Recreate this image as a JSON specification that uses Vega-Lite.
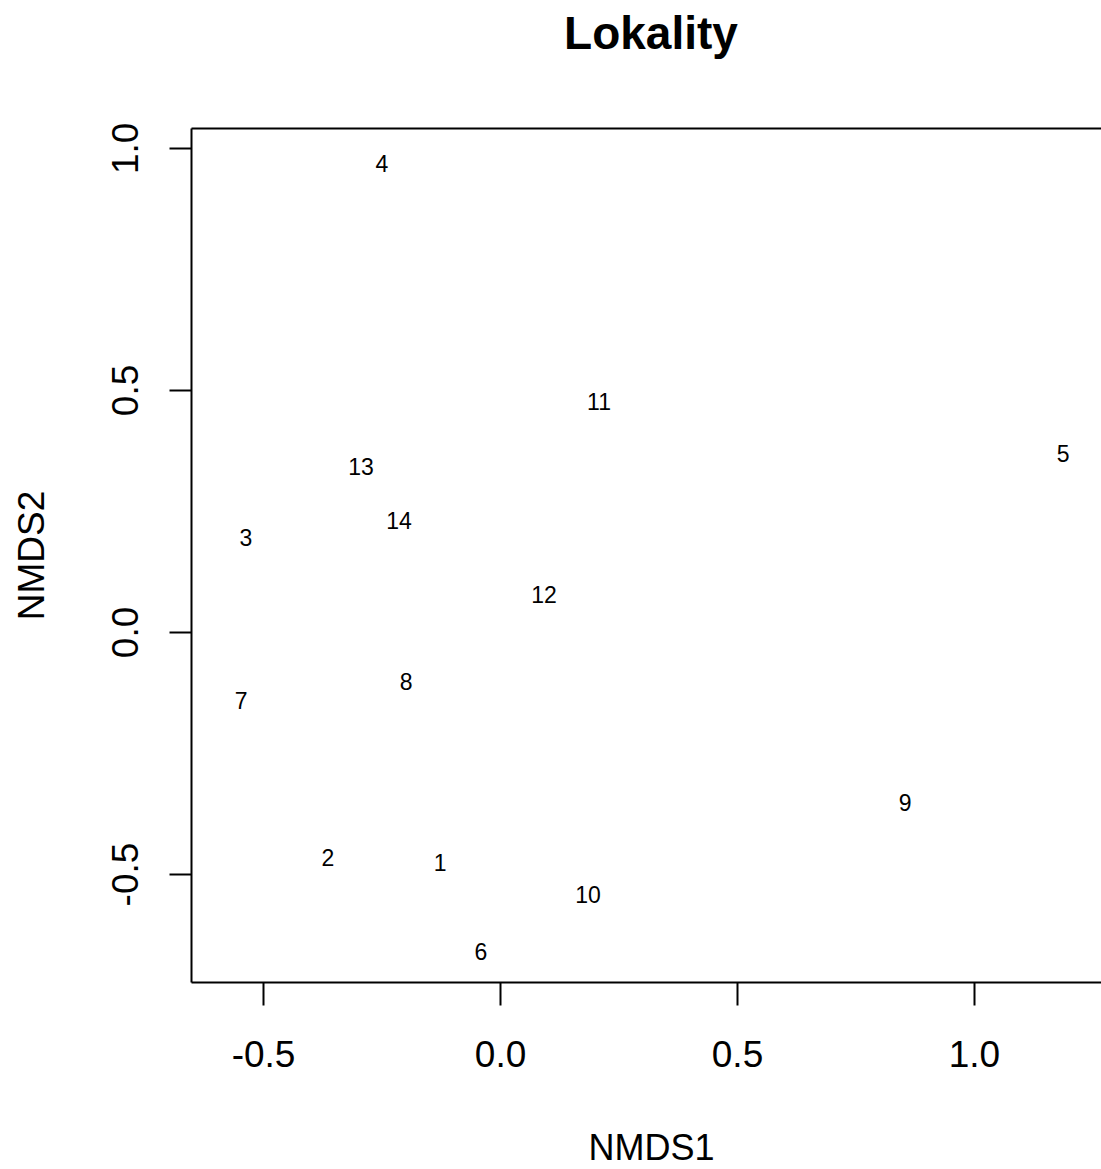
{
  "$schema": "https://vega.github.io/schema/vega-lite/v6.json",
  "autosize": {"type": "none"},
  "padding": {"left": 191, "top": 128, "right": 0, "bottom": 187},
  "width": 910,
  "height": 854,
  "background": "white",
  "title": {
    "text": "Lokality",
    "font": "Liberation Sans",
    "fontSize": 46,
    "fontWeight": "bold",
    "color": "black",
    "anchor": "middle",
    "frame": "group",
    "baseline": "alphabetic",
    "offset": 27,
    "dx": 5
  },
  "config": {
    "view": {"stroke": null},
    "font": "Liberation Sans"
  },
  "data": {
    "values": [
      {"label": "1", "x": -0.124, "y": -0.475},
      {"label": "2", "x": -0.361, "y": -0.465},
      {"label": "3", "x": -0.534, "y": 0.196},
      {"label": "4", "x": -0.247, "y": 0.969},
      {"label": "5", "x": 1.190, "y": 0.370},
      {"label": "6", "x": -0.038, "y": -0.659},
      {"label": "7", "x": -0.544, "y": -0.140},
      {"label": "8", "x": -0.196, "y": -0.101},
      {"label": "9", "x": 0.857, "y": -0.351},
      {"label": "10", "x": 0.188, "y": -0.541},
      {"label": "11", "x": 0.211, "y": 0.477},
      {"label": "12", "x": 0.095, "y": 0.079},
      {"label": "13", "x": -0.291, "y": 0.343},
      {"label": "14", "x": -0.211, "y": 0.231}
    ]
  },
  "layer": [
    {
      "mark": {"type": "text", "fontSize": 23, "color": "black", "align": "center", "baseline": "middle", "font": "Liberation Sans", "dy": 2, "dx": -1},
      "encoding": {
        "x": {
          "field": "x", "type": "quantitative",
          "scale": {"domain": [-0.652, 1.268], "nice": false, "zero": false},
          "axis": {
            "orient": "bottom",
            "values": [-0.5, 0, 0.5, 1.0],
            "labelExpr": "replace(format(datum.value, '.1f'), '\u2212', '-')",
            "grid": false,
            "domainColor": "black", "domainWidth": 2,
            "tickColor": "black", "tickWidth": 2, "tickSize": 23,
            "labelFontSize": 37, "labelColor": "black", "labelFont": "Liberation Sans",
            "labelBaseline": "alphabetic", "labelPadding": 61,
            "labelFlush": false, "labelOverlap": false,
            "title": "NMDS1", "titleFontSize": 36, "titleFontWeight": "normal", "titleColor": "black",
            "titleFont": "Liberation Sans",
            "titleBaseline": "alphabetic", "titleY": 177, "titleX": 460, "titleAlign": "center"
          }
        },
        "y": {
          "field": "y", "type": "quantitative",
          "scale": {"domain": [-0.723, 1.041], "nice": false, "zero": false},
          "axis": {
            "orient": "left",
            "values": [-0.5, 0, 0.5, 1.0],
            "labelExpr": "replace(format(datum.value, '.1f'), '\u2212', '-')",
            "grid": false,
            "domainColor": "black", "domainWidth": 2,
            "tickColor": "black", "tickWidth": 2, "tickSize": 22,
            "labelFontSize": 37, "labelColor": "black", "labelFont": "Liberation Sans",
            "labelAngle": -90, "labelAlign": "center", "labelBaseline": "alphabetic", "labelPadding": 32,
            "labelFlush": false, "labelOverlap": false,
            "title": "NMDS2", "titleFontSize": 37, "titleFontWeight": "normal", "titleColor": "black",
            "titleFont": "Liberation Sans",
            "titleAngle": -90, "titleBaseline": "alphabetic", "titleAlign": "center",
            "titleX": -148, "titleY": 427
          }
        },
        "text": {"field": "label", "type": "nominal"}
      }
    },
    {
      "mark": {"type": "point", "opacity": 0},
      "encoding": {
        "x": {
          "field": "x", "type": "quantitative",
          "axis": {
            "orient": "top", "labels": false, "ticks": false, "grid": false,
            "domainColor": "black", "domainWidth": 2, "title": null
          }
        }
      }
    }
  ],
  "resolve": {"axis": {"x": "independent"}}
}
